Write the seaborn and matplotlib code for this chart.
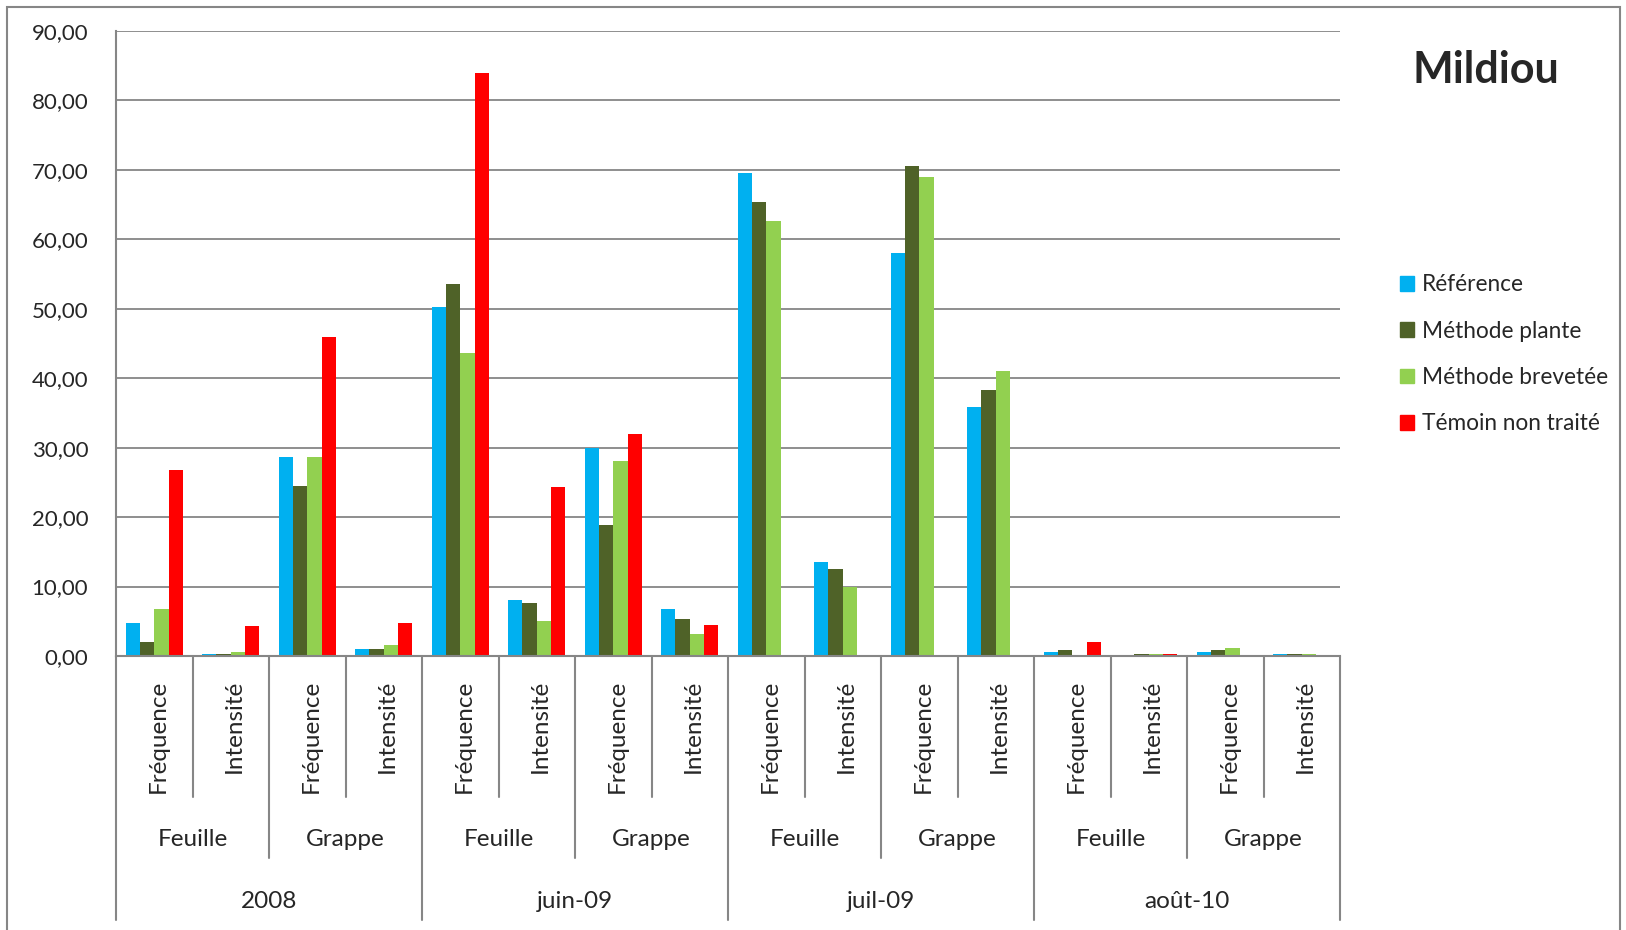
import numpy as np
import pandas as pd
import matplotlib
matplotlib.use("Agg")
import matplotlib.pyplot as plt
import matplotlib.patches as mpatches
import matplotlib.transforms as mtransforms
from matplotlib.ticker import FuncFormatter
import seaborn as sns

# Données (lecture du graphique)
annees = ["2008", "juin-09", "juil-09", "août-10"]
organes = ["Feuille", "Grappe"]
mesures = ["Fréquence", "Intensité"]
series = ["Référence", "Méthode plante", "Méthode brevetée", "Témoin non traité"]
couleurs = ["#00B0F0", "#4F6228", "#92D050", "#FF0000"]

reference = [4.8, 0.3, 28.7, 1.0, 50.3, 8.1, 30.0, 6.8,
             69.5, 13.6, 58.0, 35.8, 0.6, np.nan, 0.6, 0.3]
methode_plante = [2.0, 0.3, 24.5, 1.0, 53.6, 7.6, 18.8, 5.4,
                  65.4, 12.5, 70.6, 38.3, 0.9, 0.3, 0.9, 0.3]
methode_brevetee = [6.8, 0.6, 28.7, 1.6, 43.7, 5.1, 28.1, 3.2,
                    62.6, 10.0, 69.0, 41.0, np.nan, 0.3, 1.2, 0.3]
temoin = [26.8, 4.3, 46.0, 4.8, 84.0, 24.3, 32.0, 4.5,
          np.nan, np.nan, np.nan, np.nan, 2.0, 0.3, np.nan, np.nan]

n = len(reference)
rows = []
for nom, vals in zip(series, [reference, methode_plante, methode_brevetee, temoin]):
    for i, v in enumerate(vals):
        rows.append({"pos": i, "valeur": v, "serie": nom})
df = pd.DataFrame(rows)

sns.set_style("white")
plt.rcParams["font.family"] = ["Lato", "DejaVu Sans"]

W, H = 1626, 930
fig = plt.figure(figsize=(W / 100, H / 100), dpi=100)
x0, x1, ytop, ybot = 116, 1340, 31, 656
ax = fig.add_axes([x0 / W, 1 - ybot / H, (x1 - x0) / W, (ybot - ytop) / H])

sns.barplot(data=df, x="pos", y="valeur", hue="serie", hue_order=series,
            palette=couleurs, width=0.75, ax=ax, legend=False,
            saturation=1, errorbar=None, order=list(range(n)), linewidth=0)

gris = "#868686"
ax.set_ylim(0, 90)
ax.set_xlim(-0.5, n - 0.5)
ax.set_yticks(np.arange(0, 91, 10))
ax.yaxis.set_major_formatter(FuncFormatter(lambda v, p: f"{v:.2f}".replace(".", ",")))
ax.grid(axis="y", color=gris, lw=1.3)
ax.set_axisbelow(True)
ax.tick_params(axis="y", length=8, width=1.3, color=gris, labelsize=16, pad=12)
ax.set_xticks([])
ax.set_xlabel("")
ax.set_ylabel("")
for s in ["top", "right"]:
    ax.spines[s].set_visible(False)
for s in ["left", "bottom"]:
    ax.spines[s].set_color(gris)
    ax.spines[s].set_linewidth(1.5)

# Axe des catégories à plusieurs niveaux
trans = mtransforms.blended_transform_factory(ax.transData, fig.transFigure)
def fy(ypx):
    return 1 - ypx / H

for k in range(n + 1):
    if k % 4 == 0:
        bas = 920
    elif k % 2 == 0:
        bas = 858
    else:
        bas = 797
    ax.plot([k - 0.5, k - 0.5], [fy(ybot), fy(bas)], color=gris, lw=1.5,
            transform=trans, clip_on=False)

for i in range(n):
    ax.text(i + 0.05, fy(680), mesures[i % 2], rotation=90, ha="center", va="top",
            fontsize=17.5, transform=trans)
for j in range(n // 2):
    ax.text(2 * j + 0.5, fy(839), organes[j % 2], ha="center", va="center",
            fontsize=17.5, transform=trans)
for j, a in enumerate(annees):
    ax.text(4 * j + 1.5, fy(901), a, ha="center", va="center",
            fontsize=17.5, transform=trans)

# Titre
fig.text(1486 / W, fy(70), "Mildiou", fontsize=31, fontweight="bold",
         ha="center", va="center")

# Légende
handles = [mpatches.Patch(color=c, label=s) for s, c in zip(series, couleurs)]
fig.legend(handles=handles, loc="upper left", bbox_to_anchor=(1389 / W, fy(263)),
           frameon=False, fontsize=16.3, handlelength=0.62, handleheight=0.62,
           handletextpad=0.35, labelspacing=1.12, borderpad=0)

# Cadre du graphique
fig.patches.append(mpatches.Rectangle((7 / W, -0.01), (1620 - 7) / W, 1.01 - 7 / H,
                                      fill=False, edgecolor=gris, lw=1.5,
                                      transform=fig.transFigure))

fig.savefig("out.png", dpi=100)
